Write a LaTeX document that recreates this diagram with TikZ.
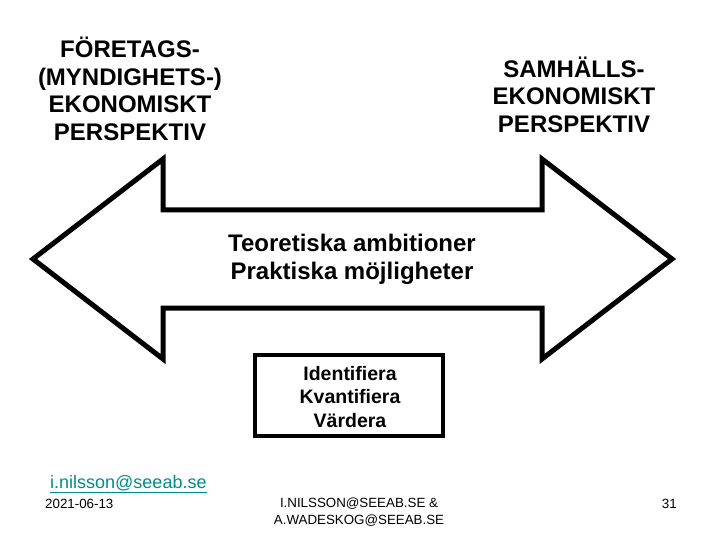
\documentclass[tikz,border=0pt]{standalone}
\usepackage{fontspec}
\setmainfont{Liberation Sans}
\definecolor{linkteal}{RGB}{0,140,140}
\tikzset{
  bigtitle/.style={align=center,font=\fontsize{24}{27.5}\selectfont\bfseries,inner sep=0pt},
  boxtext/.style={align=center,font=\fontsize{19.5}{23.5}\selectfont\bfseries,inner sep=0pt},
  small/.style={font=\fontsize{13.33}{17}\selectfont,inner sep=0pt},
  arrowshape/.style={draw=black,line width=5pt,miter limit=10,fill=white},
  framebox/.style={draw=black,line width=4pt,fill=white}
}
\begin{document}
\begin{tikzpicture}[x=1pt,y=-1pt]
\useasboundingbox (0,0) rectangle (720,540);
\fill[white] (0,0) rectangle (720,540);
% double-headed arrow
\draw[arrowshape] (33,259) -- (163,159) -- (163,210) -- (542,210) -- (542,159)
  -- (672,259) -- (542,359) -- (542,308) -- (163,308) -- (163,359) -- cycle;
% titles
\node[bigtitle] (left) at (130,89) {FÖRETAGS-\\(MYNDIGHETS-)\\EKONOMISKT\\PERSPEKTIV};
\node[bigtitle] (right) at (574,94.5) {SAMHÄLLS-\\EKONOMISKT\\PERSPEKTIV};
\node[bigtitle] (mid) at (352,259.5) {Teoretiska ambitioner\\Praktiska möjligheter};
% box
\draw[framebox] (255,355) rectangle (443,436);
\node[boxtext] (steps) at (350,397) {Identifiera\\Kvantifiera\\Värdera};
% footer
\node[anchor=west,inner sep=0pt,font=\fontsize{18}{20}\selectfont,text=linkteal] (mail) at (50,484) {\underline{i.nilsson@seeab.se}};
\node[small,anchor=west] (date) at (45,504) {2021-06-13};
\node[small,align=center] (auth) at (359,512.5) {I.NILSSON@SEEAB.SE \&\\A.WADESKOG@SEEAB.SE};
\node[small,anchor=east] (page) at (677,504) {31};
\end{tikzpicture}
\end{document}
